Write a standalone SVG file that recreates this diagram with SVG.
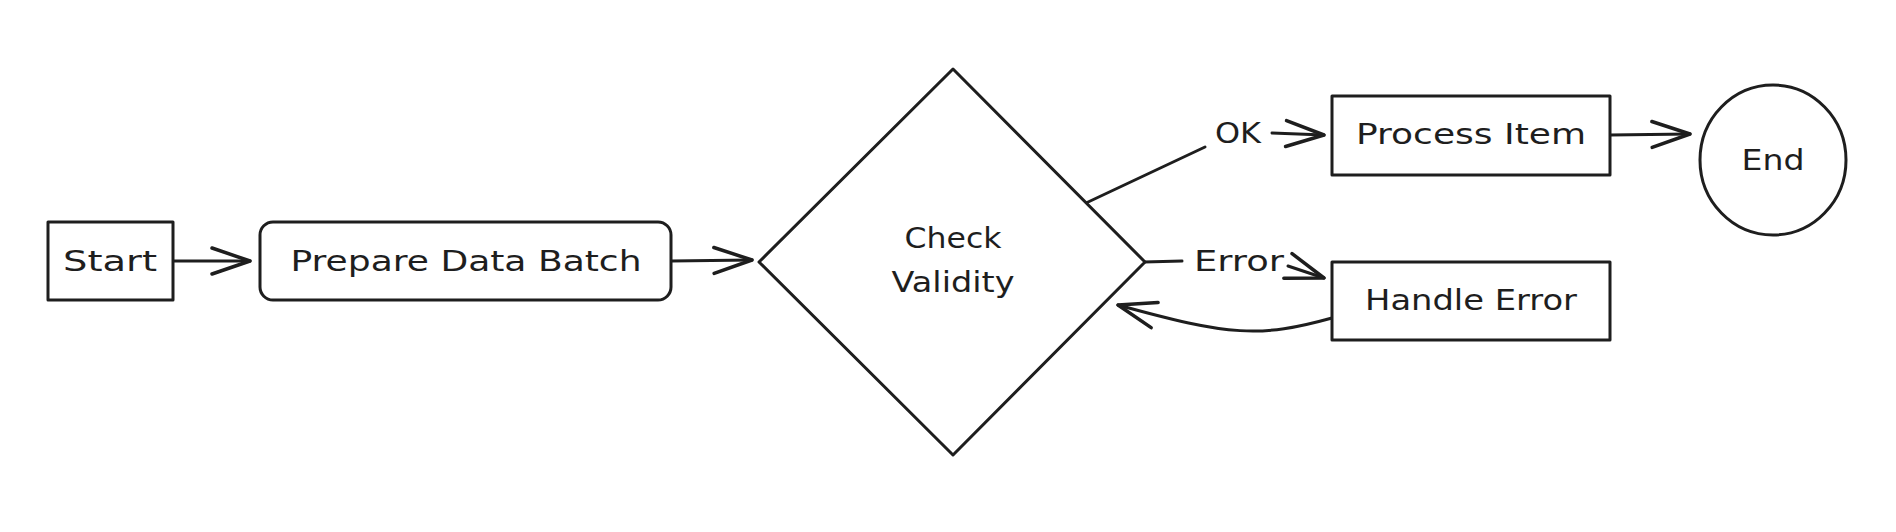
<svg xmlns="http://www.w3.org/2000/svg" width="1896" height="532" viewBox="0 0 1896 532">
<defs>
<style>
.n{fill:#ffffff;stroke:#1e1e1e;stroke-width:3;stroke-linejoin:round}
.t{font-family:"DejaVu Sans","Liberation Sans",sans-serif;font-size:29px;fill:#1e1e1e;text-anchor:middle;dominant-baseline:central}
.c{fill:none;stroke:#1e1e1e;stroke-width:3;stroke-linecap:round}
</style>
<marker id="ah" markerUnits="userSpaceOnUse" viewBox="-45 -20 50 40" markerWidth="50" markerHeight="40" refX="0" refY="0" orient="auto">
<path d="M-38,-13 L0,0 L-38,13" fill="none" stroke="#1e1e1e" stroke-width="3.5" stroke-linecap="round" stroke-linejoin="round"/>
</marker>
</defs>
<rect width="1896" height="532" fill="#ffffff"/>
<g id="connectors">
<path class="c" d="M173,261 L250,261" marker-end="url(#ah)"/>
<path class="c" d="M671,261 L752,260" marker-end="url(#ah)"/>
<path class="c" d="M1086,203 L1205,147"/>
<path class="c" d="M1272,133 L1324,135" marker-end="url(#ah)"/>
<path class="c" d="M1610,135 L1690,134" marker-end="url(#ah)"/>
<path class="c" d="M1144,262 L1182,261"/>
<path class="c" d="M1288,266 L1324,278" marker-end="url(#ah)"/>
<path class="c" d="M1332,318 C1260,338 1230,336 1118,305" marker-end="url(#ah)"/>
<text class="t" x="1238" y="133" textLength="46" lengthAdjust="spacingAndGlyphs">OK</text>
<text class="t" x="1239" y="261" textLength="90" lengthAdjust="spacingAndGlyphs">Error</text>
</g>
<g id="start">
<rect class="n" x="48" y="222" width="125" height="78"/>
<text class="t" x="110" y="261" textLength="94" lengthAdjust="spacingAndGlyphs">Start</text>
</g>
<g id="prepare">
<rect class="n" x="260" y="222" width="411" height="78" rx="13"/>
<text class="t" x="466" y="261" textLength="351" lengthAdjust="spacingAndGlyphs">Prepare Data Batch</text>
</g>
<g id="check">
<polygon class="n" points="953,69 1145,262 953,455 759,262"/>
<text class="t" x="953" y="238" textLength="97" lengthAdjust="spacingAndGlyphs">Check</text>
<text class="t" x="953" y="282" textLength="123" lengthAdjust="spacingAndGlyphs">Validity</text>
</g>
<g id="process">
<rect class="n" x="1332" y="96" width="278" height="79"/>
<text class="t" x="1471" y="134" textLength="230" lengthAdjust="spacingAndGlyphs">Process Item</text>
</g>
<g id="handle">
<rect class="n" x="1332" y="262" width="278" height="78"/>
<text class="t" x="1471" y="300" textLength="212" lengthAdjust="spacingAndGlyphs">Handle Error</text>
</g>
<g id="end">
<ellipse class="n" cx="1773" cy="160" rx="73" ry="75"/>
<text class="t" x="1773" y="160" textLength="63" lengthAdjust="spacingAndGlyphs">End</text>
</g>
</svg>
